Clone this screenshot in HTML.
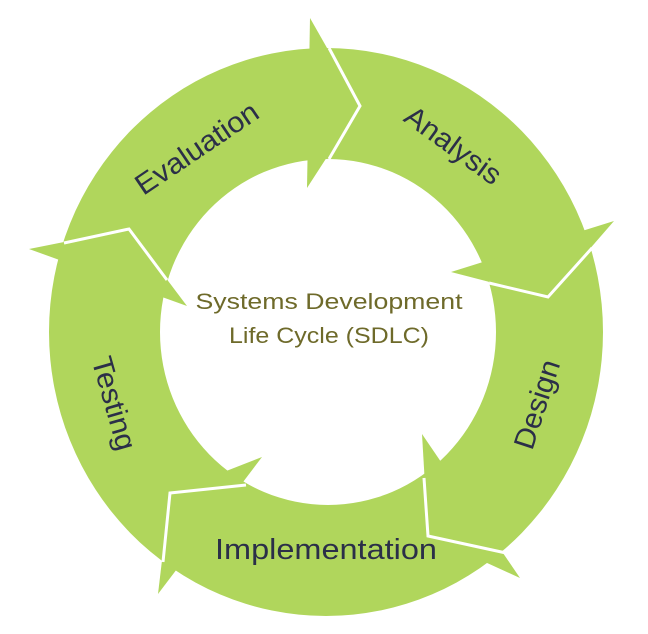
<!DOCTYPE html>
<html><head><meta charset="utf-8"><style>
html,body{margin:0;padding:0;background:#fff;width:648px;height:634px;overflow:hidden}
</style></head><body>
<svg width="648" height="634" viewBox="0 0 648 634" xmlns="http://www.w3.org/2000/svg">
<path fill-rule="evenodd" fill="#b0d65c" d="M49,332 a277,284 0 1,0 554,0 a277,284 0 1,0 -554,0 Z M160,332 a168,173 0 1,0 336,0 a168,173 0 1,0 -336,0 Z"/>
<g fill="#b0d65c">
<polygon points="310,18 360,106 307,188"/>
<polygon points="614,221 548,297 451,272"/>
<polygon points="520,578 428,536 422,434"/>
<polygon points="158,594 170,493 262,457"/>
<polygon points="29,249 129,229 187,306"/>
</g>
<g fill="none" stroke="#fff" stroke-width="3" stroke-linejoin="miter">
<polyline points="329,48 360,106 329,159"/>
<polyline points="592,248 548,297 489,283"/>
<polyline points="506,553 428,536 424,478"/>
<polyline points="246,485 170,493 163,562"/>
<polyline points="64,243 129,229 167,280"/>
</g>
<g font-family="Liberation Sans, sans-serif" fill="#2b2f48" font-size="29">
<text transform="translate(198,150) rotate(-34)" text-anchor="middle" dominant-baseline="middle" textLength="142" lengthAdjust="spacingAndGlyphs">Evaluation</text>
<text transform="translate(452,147) rotate(36)" text-anchor="middle" dominant-baseline="middle" textLength="112" lengthAdjust="spacingAndGlyphs">Analysis</text>
<text transform="translate(539,405) rotate(-72)" text-anchor="middle" dominant-baseline="middle" textLength="92" lengthAdjust="spacingAndGlyphs">Design</text>
<text transform="translate(112,404) rotate(74)" text-anchor="middle" dominant-baseline="middle" textLength="96" lengthAdjust="spacingAndGlyphs">Testing</text>
<text x="326" y="559" text-anchor="middle" textLength="222" lengthAdjust="spacingAndGlyphs">Implementation</text>
</g>
<g font-family="Liberation Sans, sans-serif" fill="#6e6a2a" font-size="22">
<text x="329" y="309" text-anchor="middle" textLength="267" lengthAdjust="spacingAndGlyphs">Systems Development</text>
<text x="329" y="343" text-anchor="middle" textLength="200" lengthAdjust="spacingAndGlyphs">Life Cycle (SDLC)</text>
</g>
</svg>
</body></html>
